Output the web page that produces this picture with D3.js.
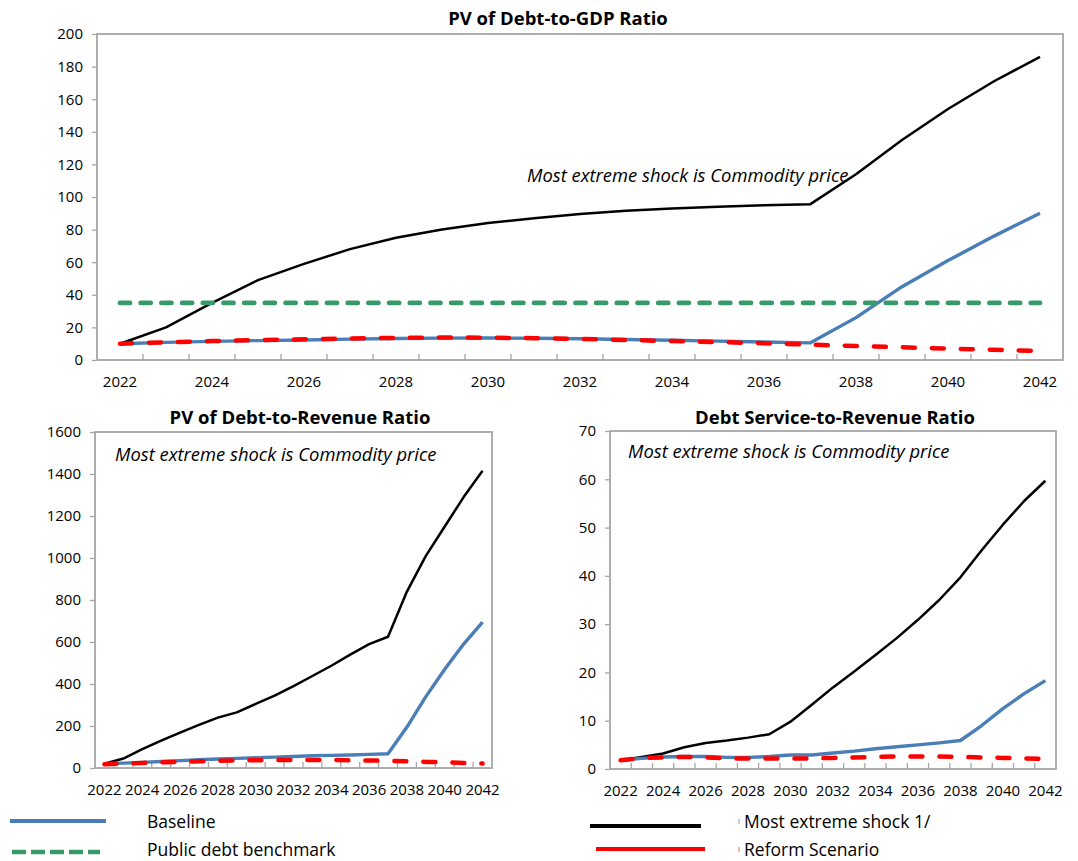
<!DOCTYPE html>
<html>
<head>
<meta charset="utf-8">
<script src="https://cdn.jsdelivr.net/npm/d3@7"></script>
<style>
  body { margin: 0; background: #fff; }
  svg text { font-family: "Open Sans", "Noto Sans", sans-serif; fill: #000; }
</style>
</head>
<body>
<svg id="chart" width="1078" height="861"></svg>
<script>
// Projection years and the years that carry a label on the x axis
const years = [2022, 2023, 2024, 2025, 2026, 2027, 2028, 2029, 2030, 2031, 2032,
               2033, 2034, 2035, 2036, 2037, 2038, 2039, 2040, 2041, 2042];
const labelYears = [2022, 2024, 2026, 2028, 2030, 2032, 2034, 2036, 2038, 2040, 2042];

// PV of debt-to-GDP ratio
const gdpShock     = [10, 20, 35, 49, 59, 68, 75, 80, 84, 87, 89.5, 91.5, 93, 94, 95, 95.5, 114, 135, 154, 171, 186];
const gdpBaseline  = [10, 10.8, 11.4, 11.9, 12.3, 12.8, 13.2, 13.4, 13.5, 13.3, 13.0, 12.6, 12.1, 11.6, 11.0, 10.5, 26, 45, 61, 76, 90];
const gdpReform    = [10, 10.9, 11.6, 12.2, 12.7, 13.2, 13.6, 13.8, 13.7, 13.4, 12.9, 12.3, 11.6, 11.0, 10.3, 9.4, 8.6, 7.8, 7.0, 6.3, 5.5];
const gdpBenchmark = [35, 35, 35, 35, 35, 35, 35, 35, 35, 35, 35, 35, 35, 35, 35, 35, 35, 35, 35, 35, 35];
const gdpTicks     = [0, 20, 40, 60, 80, 100, 120, 140, 160, 180, 200];

// PV of debt-to-revenue ratio
const revShock    = [20, 45, 90, 130, 168, 205, 240, 265, 305, 345, 390, 438, 487, 540, 590, 625, 840, 1010, 1150, 1290, 1415];
const revBaseline = [20, 23, 27, 31, 35, 39, 43, 46, 49, 52, 55, 58, 60, 62, 65, 68, 195, 340, 470, 590, 695];
const revReform   = [18, 21, 24, 27, 30, 32, 34, 36, 37, 38, 38, 38, 38, 37, 36, 34, 32, 29, 27, 24, 21];
const revTicks    = [0, 200, 400, 600, 800, 1000, 1200, 1400, 1600];

// Debt service-to-revenue ratio
const dsShock    = [1.8, 2.5, 3.2, 4.5, 5.4, 5.9, 6.5, 7.2, 9.8, 13.3, 16.9, 20.2, 23.6, 27.1, 30.9, 35.0, 39.7, 45.3, 50.6, 55.5, 59.7];
const dsBaseline = [1.8, 2.2, 2.5, 2.6, 2.6, 2.4, 2.4, 2.6, 2.9, 2.9, 3.3, 3.7, 4.2, 4.6, 5.0, 5.4, 5.9, 9.0, 12.5, 15.6, 18.3];
const dsReform   = [1.8, 2.3, 2.4, 2.5, 2.4, 2.2, 2.2, 2.2, 2.2, 2.2, 2.3, 2.4, 2.5, 2.6, 2.6, 2.6, 2.5, 2.4, 2.3, 2.2, 2.1];
const dsTicks    = [0, 10, 20, 30, 40, 50, 60, 70];

const noteText = "Most extreme shock is Commodity price";

const colors = {
  baseline: "#4A7EB6",
  shock: "#000000",
  reform: "#FF0000",
  benchmark: "#379A68",
  frame: "#A6A6A6"
};

const svg = d3.select("#chart");

function drawPanel(cfg) {
  const g = svg.append("g");
  const x = d3.scaleBand().domain(years).range([cfg.left, cfg.right]).padding(0);
  const y = d3.scaleLinear().domain([0, cfg.ticks[cfg.ticks.length - 1]]).range([cfg.bottom, cfg.top]);
  const cx = yr => x(yr) + x.bandwidth() / 2;

  // y axis ticks and labels
  const yAxis = d3.axisLeft(y).tickValues(cfg.ticks).tickSize(5).tickPadding(9).tickFormat(d3.format("d"));
  const ya = g.append("g").attr("transform", `translate(${cfg.left},0)`).call(yAxis);
  ya.select(".domain").remove();
  ya.selectAll(".tick line").attr("stroke", colors.frame).attr("stroke-width", 1.3);
  ya.selectAll(".tick text").style("font-size", "15px").attr("fill", "#000");

  // x axis labels every second year
  const xAxis = d3.axisBottom(x).tickValues(labelYears).tickSize(0).tickPadding(cfg.xPad).tickFormat(d3.format("d"));
  const xa = g.append("g").attr("transform", `translate(0,${cfg.bottom})`).call(xAxis);
  xa.select(".domain").remove();
  xa.selectAll(".tick text").style("font-size", "15px").attr("fill", "#000");

  // category boundary tick marks pointing into the plot
  g.append("g").selectAll("line").data(years.slice(1)).join("line")
    .attr("x1", d => x(d)).attr("x2", d => x(d))
    .attr("y1", cfg.bottom).attr("y2", cfg.bottom - 6)
    .attr("stroke", colors.frame).attr("stroke-width", 1.3);

  // plot frame
  g.append("rect")
    .attr("x", cfg.left).attr("y", cfg.top)
    .attr("width", cfg.right - cfg.left).attr("height", cfg.bottom - cfg.top)
    .attr("fill", "none").attr("stroke", colors.frame).attr("stroke-width", 1.8);

  const line = d3.line().x((v, i) => cx(years[i])).y(v => y(v));

  const series = [
    { values: cfg.shock, color: colors.shock, width: 2.5 },
    { values: cfg.baseline, color: colors.baseline, width: 3.4 },
    { values: cfg.reform, color: colors.reform, width: 4.5, dash: "12,17", cap: "round" }
  ];
  if (cfg.benchmark) {
    series.push({ values: cfg.benchmark, color: colors.benchmark, width: 4.8, dash: "10,10.7", cap: "round" });
  }
  series.forEach(s => {
    g.append("path")
      .datum(s.values)
      .attr("d", line)
      .attr("fill", "none")
      .attr("stroke", s.color)
      .attr("stroke-width", s.width)
      .attr("stroke-linejoin", "round")
      .attr("stroke-linecap", s.cap || "butt")
      .attr("stroke-dasharray", s.dash || null);
  });

  // title and annotation
  g.append("text")
    .attr("x", cfg.titleX).attr("y", cfg.titleY)
    .attr("text-anchor", "middle")
    .style("font-size", "18.5px").style("font-weight", "bold")
    .text(cfg.title);
  g.append("text")
    .attr("x", cfg.noteX).attr("y", cfg.noteY)
    .style("font-size", "18.4px").style("font-style", "italic")
    .text(noteText);
}

drawPanel({
  title: "PV of Debt-to-GDP Ratio", titleX: 558, titleY: 25,
  left: 97, right: 1063, top: 34, bottom: 360, xPad: 16,
  ticks: gdpTicks,
  shock: gdpShock, baseline: gdpBaseline, reform: gdpReform, benchmark: gdpBenchmark,
  noteX: 527, noteY: 182
});

drawPanel({
  title: "PV of Debt-to-Revenue Ratio", titleX: 300, titleY: 424,
  left: 95, right: 492, top: 432, bottom: 768, xPad: 16,
  ticks: revTicks,
  shock: revShock, baseline: revBaseline, reform: revReform,
  noteX: 115, noteY: 461
});

drawPanel({
  title: "Debt Service-to-Revenue Ratio", titleX: 835, titleY: 424,
  left: 610, right: 1056, top: 431, bottom: 769, xPad: 16,
  ticks: dsTicks,
  shock: dsShock, baseline: dsBaseline, reform: dsReform,
  noteX: 628, noteY: 458
});

// legend
const legendItems = [
  { label: "Baseline", color: colors.baseline, x1: 10, x2: 106, y: 821, width: 4, tx: 147, ty: 828 },
  { label: "Public debt benchmark", color: colors.benchmark, x1: 12, x2: 100, y: 852, width: 4.5, dash: "14,5", tx: 147, ty: 856 },
  { label: "Most extreme shock 1/", color: colors.shock, x1: 590, x2: 701, y: 826, width: 4, tx: 744, ty: 828, mark: "#999" },
  { label: "Reform Scenario", color: colors.reform, x1: 596, x2: 705, y: 849, width: 4, tx: 744, ty: 856, mark: "#FF6060" }
];
const legend = svg.append("g");
legendItems.forEach(it => {
  legend.append("line")
    .attr("x1", it.x1).attr("x2", it.x2).attr("y1", it.y).attr("y2", it.y)
    .attr("stroke", it.color).attr("stroke-width", it.width)
    .attr("stroke-dasharray", it.dash || null);
  if (it.mark) {
    legend.append("line")
      .attr("x1", it.tx - 5).attr("x2", it.tx - 5)
      .attr("y1", it.ty - 9).attr("y2", it.ty - 4)
      .attr("stroke", it.mark).attr("stroke-width", 1);
  }
  legend.append("text")
    .attr("x", it.tx).attr("y", it.ty)
    .style("font-size", "17.5px")
    .text(it.label);
});
</script>
</body>
</html>
